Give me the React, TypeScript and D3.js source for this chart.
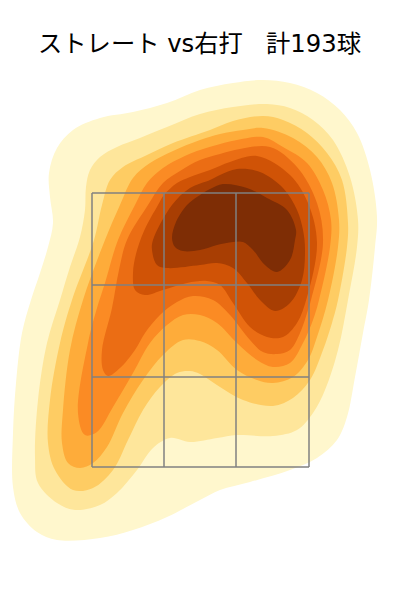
import React from "react";
import * as d3 from "d3";

type Pt = [number, number];

const title = "ストレート vs右打\u00a0\u00a0\u00a0計193球";

// zone grid lines (horizontal offset, height)
const zoneCols = [-108, -36, 36, 109];
const zoneRows = [0, 90, 182, 274];

// density bands, outermost first
const band1: Pt[] = [[0,377],[-33,364],[-67,355],[-100,349],[-127,337],[-143,319],[-151,294],[-150,270],[-147,244],[-152,220],[-160,194],[-169,167],[-178,134],[-184,84],[-187,34],[-187,-20],[-180,-46],[-163,-65],[-143,-73],[-100,-71],[-67,-63],[-33,-50],[0,-33],[20,-23],[50,-15],[90,-3],[117,9],[137,27],[147,50],[155,90],[163,134],[169,167],[175,220],[177,250],[170,297],[157,334],[140,357],[117,374],[90,384],[63,387],[33,384]];
const band2: Pt[] = [[0,353],[-33,340],[-60,329],[-83,320],[-100,310],[-110,297],[-114,280],[-115,257],[-120,230],[-130,200],[-140,167],[-153,124],[-162,67],[-165,10],[-162,-16],[-143,-36],[-125,-43],[-100,-38],[-83,-26],[-63,-3],[-47,19],[-30,29],[-10,25],[17,29],[37,32],[73,31],[97,37],[113,54],[125,77],[138,117],[148,167],[157,220],[158,247],[150,290],[133,327],[113,347],[90,359],[67,363],[33,360]];
const band3: Pt[] = [[10,337],[-27,324],[-53,312],[-77,300],[-90,287],[-98,262],[-106,227],[-128,167],[-140,124],[-150,67],[-152,24],[-145,-3],[-127,-23],[-107,-21],[-87,-3],[-72,27],[-57,57],[-40,80],[-23,94],[-10,96],[0,93],[20,80],[43,67],[73,61],[93,69],[110,87],[123,117],[132,144],[138,167],[147,220],[148,244],[142,287],[127,314],[107,334],[83,347],[63,351],[33,346]];
const band4: Pt[] = [[0,327],[-27,316],[-50,304],[-67,289],[-80,262],[-95,227],[-117,167],[-130,117],[-137,57],[-138,24],[-132,4],[-120,-1],[-107,4],[-93,20],[-77,54],[-57,87],[-37,112],[-17,127],[0,126],[17,117],[37,97],[57,87],[73,84],[93,90],[108,107],[117,130],[128,167],[138,220],[139,247],[132,284],[117,310],[93,329],[63,339],[43,337],[20,333]];
const band5: Pt[] = [[0,317],[-13,312],[-37,299],[-53,284],[-65,262],[-82,227],[-95,184],[-103,159],[-112,124],[-122,54],[-115,32],[-103,35],[-87,60],[-67,94],[-50,124],[-33,142],[-17,152],[0,152],[17,144],[37,124],[57,107],[73,100],[90,104],[103,124],[113,147],[119,167],[130,220],[131,247],[123,277],[107,304],[83,320],[63,330],[37,327],[13,321]];
const band6: Pt[] = [[0,307],[-20,296],[-37,284],[-52,262],[-73,227],[-81,197],[-88,159],[-98,117],[-97,97],[-92,91],[-80,99],[-65,117],[-55,134],[-40,152],[-23,165],[-7,171],[13,167],[30,152],[50,127],[63,115],[77,113],[90,117],[100,134],[108,157],[111,167],[123,224],[117,264],[97,300],[70,320],[40,318],[20,313]];
const band7: Pt[] = [[10,297],[-10,290],[-23,284],[-36,272],[-42,262],[-56,236],[-64,213],[-67,194],[-65,177],[-55,172],[-37,177],[-13,184],[7,186],[20,182],[33,164],[50,140],[67,130],[83,130],[97,144],[107,170],[117,224],[108,264],[90,292],[57,311],[30,305]];
const band8: Pt[] = [[20,292],[10,287],[-10,279],[-28,262],[-47,227],[-48,217],[-43,202],[-33,199],[0,202],[17,204],[33,199],[47,184],[60,167],[75,156],[90,164],[102,187],[105,217],[103,237],[97,257],[83,279],[60,295],[37,298]];
const band9: Pt[] = [[23,283],[10,278],[-3,270],[-13,262],[-24,245],[-28,229],[-25,220],[-17,216],[0,217],[17,222],[33,225],[43,225],[53,217],[65,202],[77,195],[90,207],[95,227],[96,237],[87,257],[67,269],[47,279]];

const bands = [band1, band2, band3, band4, band5, band6, band7, band8, band9];
const bandColors = ["#fff7cd", "#fee69b", "#fecc63", "#feac3a", "#fb8b24", "#eb6d14", "#d05306", "#a83e03", "#7e2d05"];

const App = () => {
  const x = d3.scaleLinear().domain([-108, 109]).range([92, 309]);
  const y = d3.scaleLinear().domain([0, 274]).range([467, 193]);

  const ring = d3
    .line<Pt>()
    .x((d) => x(d[0]))
    .y((d) => y(d[1]))
    .curve(d3.curveCatmullRomClosed.alpha(0.5));

  const zoneLeft = x(zoneCols[0]);
  const zoneRight = x(zoneCols[zoneCols.length - 1]);
  const zoneBottom = y(zoneRows[0]);
  const zoneTop = y(zoneRows[zoneRows.length - 1]);

  return (
    <svg
      width={400}
      height={600}
      viewBox="0 0 400 600"
      style={{ position: "absolute", left: 0, top: 0, display: "block" }}
    >
      <rect width={400} height={600} fill="#fff" />
      <text
        x={199.5}
        y={52}
        textAnchor="middle"
        fontSize={24.3}
        fill="#000"
        fontFamily="'DejaVu Sans', 'Noto Sans CJK JP', sans-serif"
      >
        {title}
      </text>
      {bands.map((b, i) => (
        <path key={i} d={ring(b) as string} fill={bandColors[i]} />
      ))}
      <g stroke="#808080" strokeWidth={1.5} fill="none">
        {zoneCols.map((c) => (
          <line key={c} x1={x(c)} x2={x(c)} y1={zoneTop} y2={zoneBottom} />
        ))}
        {zoneRows.map((r) => (
          <line key={r} x1={zoneLeft} x2={zoneRight} y1={y(r)} y2={y(r)} />
        ))}
      </g>
    </svg>
  );
};

export default App;
